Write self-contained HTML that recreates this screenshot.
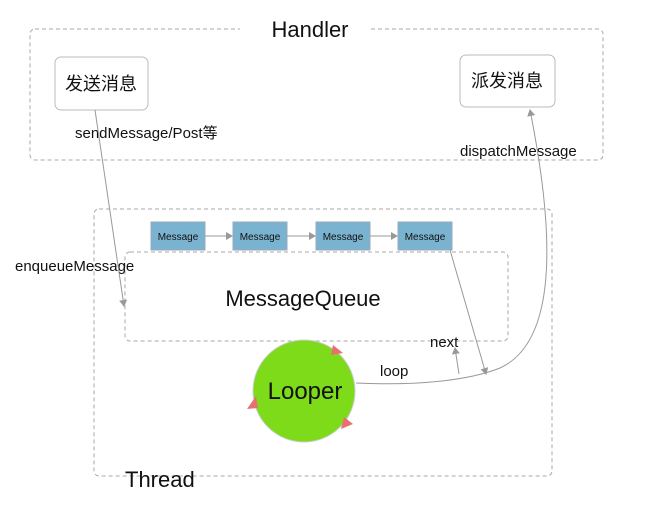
<!DOCTYPE html>
<html><head><meta charset="utf-8"><style>
body{margin:0;background:#fff;}
svg text{font-family:"Liberation Sans","Noto Sans CJK SC",sans-serif;fill:#111;}
</style></head><body>
<svg width="645" height="513" viewBox="0 0 645 513" xmlns="http://www.w3.org/2000/svg">
<defs>
<marker id="a" markerWidth="8" markerHeight="8" refX="6" refY="4" orient="auto" markerUnits="userSpaceOnUse"><path d="M0,0 L7,4 L0,8z" fill="#999"/></marker>
</defs>
<g fill="none" stroke="#aaa" stroke-width="1" stroke-dasharray="4,3">
<rect x="30" y="29" width="573" height="131" rx="5"/>
<rect x="94" y="209" width="458" height="267" rx="5"/>
<rect x="125" y="252" width="383" height="89" rx="5"/>
</g>
<rect x="240" y="16" width="130" height="24" fill="#fff"/>
<text x="310" y="37" font-size="22" text-anchor="middle">Handler</text>
<rect x="55" y="57" width="93" height="53" rx="6" fill="#fff" stroke="#bbb"/>
<text x="101" y="90" font-size="18" text-anchor="middle">发送消息</text>
<rect x="460" y="55" width="95" height="52" rx="6" fill="#fff" stroke="#bbb"/>
<text x="507" y="87" font-size="18" text-anchor="middle">派发消息</text>
<text x="75" y="138" font-size="15">sendMessage/Post等</text>
<text x="460" y="156" font-size="15">dispatchMessage</text>
<text x="15" y="271" font-size="15">enqueueMessage</text>
<g stroke="#999" fill="none" stroke-width="1">
<line x1="95" y1="110" x2="124" y2="306" marker-end="url(#a)"/>
<line x1="205" y1="236" x2="232" y2="236" marker-end="url(#a)"/>
<line x1="287" y1="236" x2="315" y2="236" marker-end="url(#a)"/>
<line x1="370" y1="236" x2="397" y2="236" marker-end="url(#a)"/>
<line x1="450" y1="250" x2="486" y2="374" marker-end="url(#a)"/>
<path d="M356,383 C420,386 470,380 500,368 C550,345 560,260 530,110" marker-end="url(#a)"/>
<line x1="459" y1="374" x2="455" y2="348" marker-end="url(#a)"/>
</g>
<g font-size="10" text-anchor="middle">
<rect x="151" y="222" width="54" height="28" fill="#7ab3cf" stroke="#9ab"/><text x="178" y="240">Message</text>
<rect x="233" y="222" width="54" height="28" fill="#7ab3cf" stroke="#9ab"/><text x="260" y="240">Message</text>
<rect x="316" y="222" width="54" height="28" fill="#7ab3cf" stroke="#9ab"/><text x="343" y="240">Message</text>
<rect x="398" y="222" width="54" height="28" fill="#7ab3cf" stroke="#9ab"/><text x="425" y="240">Message</text>
</g>
<text x="303" y="306" font-size="22" text-anchor="middle">MessageQueue</text>
<text x="430" y="347" font-size="15">next</text>
<text x="380" y="376" font-size="15">loop</text>
<circle cx="304" cy="391" r="51" fill="#7ddb1a" stroke="#ccc"/>
<text x="305" y="399" font-size="24" text-anchor="middle">Looper</text>
<g fill="#e87070">
<path d="M333,345 L343,353 L331,355z"/>
<path d="M256,396 L247,409 L258,408z"/>
<path d="M344,417 L353,424 L341,429z"/>
</g>
<text x="125" y="487" font-size="22">Thread</text>
</svg>
</body></html>
